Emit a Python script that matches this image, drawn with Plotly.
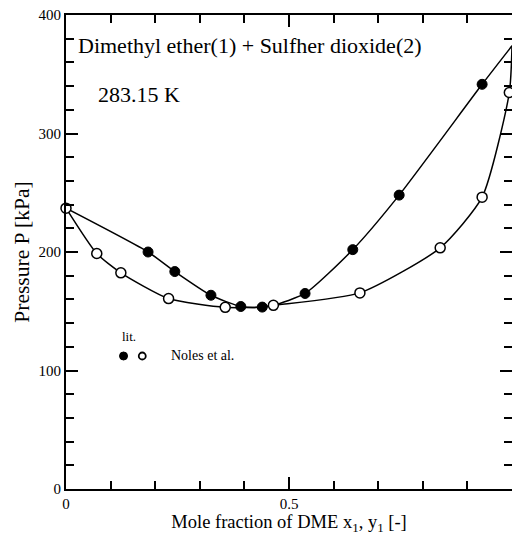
import plotly.graph_objects as go

# Experimental data (Noles et al.), 283.15 K
x_liq = [0.184, 0.244, 0.325, 0.392, 0.440, 0.536, 0.643, 0.747, 0.933]
p_liq = [200.0, 183.5, 163.5, 154.0, 153.5, 165.0, 202.0, 248.0, 341.5]
y_vap = [0.0, 0.069, 0.123, 0.230, 0.357, 0.465, 0.659, 0.839, 0.933, 0.994]
p_vap = [237.0, 198.7, 182.4, 160.7, 153.3, 155.0, 165.5, 203.5, 246.3, 334.6]

# Calculated curves
xc_bub = [0.0, 0.184, 0.244, 0.325, 0.392, 0.440, 0.465, 0.536, 0.643, 0.747, 0.933, 1.0]
pc_bub = [237.0, 200.0, 183.5, 163.5, 154.0, 153.5, 155.0, 165.0, 202.0, 248.0, 341.5, 374.0]
yc_dew = [0.0, 0.069, 0.123, 0.230, 0.357, 0.440, 0.465, 0.659, 0.839, 0.933, 0.994, 1.0]
pc_dew = [237.0, 198.7, 182.4, 160.7, 153.3, 153.5, 155.0, 165.5, 203.5, 246.3, 334.6, 374.0]

x_tickvals = [0, 0.5]
x_ticktext = ["0", "0.5"]
y_tickvals = [0, 100, 200, 300, 400]
y_ticktext = ["0", "100", "200", "300", "400"]

FONT = "Liberation Serif"

fig = go.Figure()
fig.add_trace(go.Scatter(x=xc_bub, y=pc_bub, mode="lines",
                         line=dict(color="black", width=1.5, shape="spline", smoothing=0.6),
                         showlegend=False, hoverinfo="skip"))
fig.add_trace(go.Scatter(x=yc_dew, y=pc_dew, mode="lines",
                         line=dict(color="black", width=1.5, shape="spline", smoothing=0.6),
                         showlegend=False, hoverinfo="skip"))
fig.add_trace(go.Scatter(x=x_liq, y=p_liq, mode="markers",
                         marker=dict(symbol="circle", size=10, color="black",
                                     line=dict(color="black", width=1)),
                         showlegend=False))
fig.add_trace(go.Scatter(x=y_vap, y=p_vap, mode="markers",
                         marker=dict(symbol="circle", size=10, color="white",
                                     line=dict(color="black", width=1.5)),
                         showlegend=False, cliponaxis=False))

axis_common = dict(
    showgrid=False, zeroline=False, showline=True, linecolor="black", linewidth=2,
    mirror="ticks", ticks="inside", tickcolor="black", tickwidth=2,
    tickfont=dict(family=FONT, size=15, color="black"),
)

fig.update_xaxes(range=[0, 1], tickvals=x_tickvals, ticktext=x_ticktext, ticklen=12,
                 minor=dict(dtick=0.1, ticks="inside", ticklen=8, tickwidth=2, tickcolor="black"),
                 title=dict(text="Mole fraction of DME x<sub>1</sub>, y<sub>1</sub> [-]",
                            font=dict(family=FONT, size=18.5, color="black"), standoff=3),
                 **axis_common)
fig.update_yaxes(range=[0, 400], tickvals=y_tickvals, ticktext=y_ticktext, ticklen=12,
                 minor=dict(dtick=20, ticks="inside", ticklen=8, tickwidth=2, tickcolor="black"),
                 title=dict(text="Pressure P [kPa]",
                            font=dict(family=FONT, size=21.5, color="black"), standoff=3),
                 **axis_common)

ann = []
ann.append(dict(text="Dimethyl ether(1) + Sulfher dioxide(2)", x=0.0224, y=0.936,
                xref="paper", yref="paper", xanchor="left", yanchor="middle", showarrow=False,
                font=dict(family=FONT, size=22, color="black")))
ann.append(dict(text="283.15 K", x=0.0666, y=0.832,
                xref="paper", yref="paper", xanchor="left", yanchor="middle", showarrow=False,
                font=dict(family=FONT, size=22, color="black")))
ann.append(dict(text="lit.", x=0.120, y=0.321,
                xref="paper", yref="paper", xanchor="left", yanchor="middle", showarrow=False,
                font=dict(family=FONT, size=13, color="black")))
ann.append(dict(text="Noles et al.", x=0.231, y=0.2806,
                xref="paper", yref="paper", xanchor="left", yanchor="middle", showarrow=False,
                font=dict(family=FONT, size=14, color="black")))

shapes = [
    dict(type="circle", xref="paper", yref="paper", xsizemode="pixel", ysizemode="pixel",
         xanchor=0.129, yanchor=0.2806, x0=-4, x1=4, y0=-4, y1=4,
         fillcolor="black", line=dict(color="black", width=1)),
    dict(type="circle", xref="paper", yref="paper", xsizemode="pixel", ysizemode="pixel",
         xanchor=0.171, yanchor=0.2806, x0=-3.5, x1=3.5, y0=-3.5, y1=3.5,
         fillcolor="white", line=dict(color="black", width=1.8)),
]

fig.update_layout(
    template="none",
    width=512, height=535,
    margin=dict(l=66, r=0, t=15, b=46),
    plot_bgcolor="white", paper_bgcolor="white",
    annotations=ann, shapes=shapes,
    font=dict(family=FONT, color="black"),
)

fig.write_html("out.html", config={"displayModeBar": False},
               post_script="document.body.style.margin='0';document.body.style.overflow='hidden';")
